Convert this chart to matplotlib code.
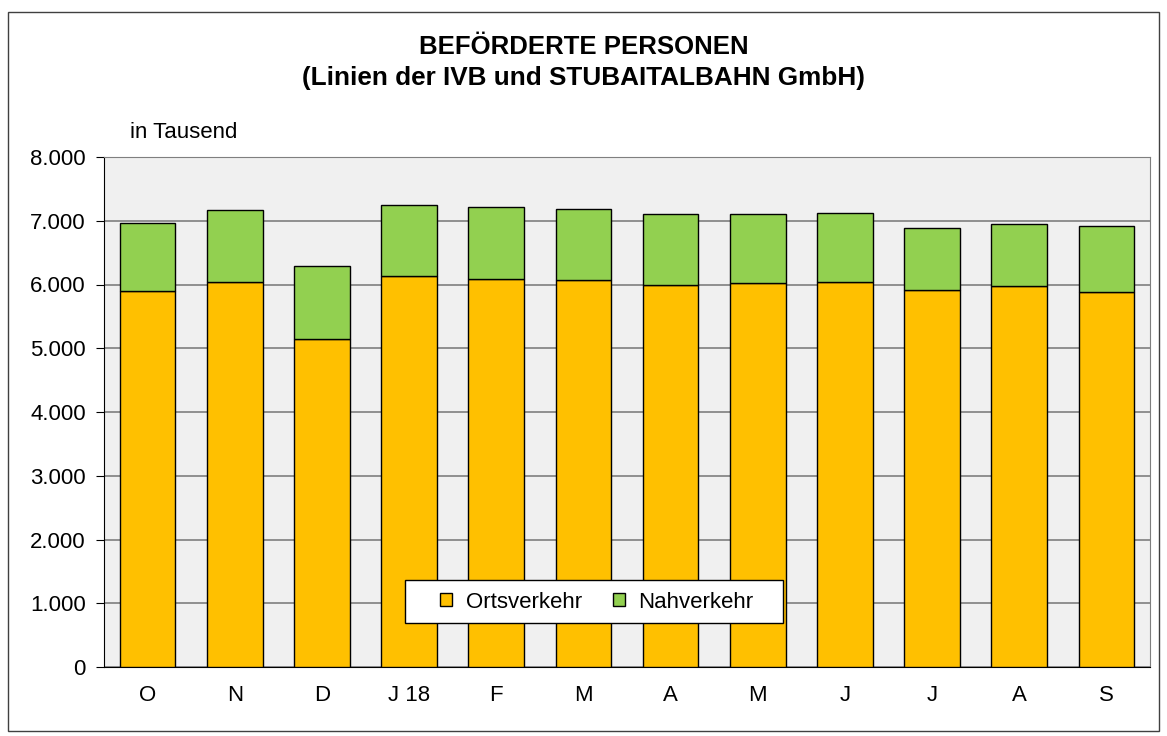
import matplotlib.pyplot as plt
import numpy as np
from matplotlib.patches import Rectangle
from matplotlib.ticker import FuncFormatter

plt.rcParams['font.family'] = ['Liberation Sans', 'DejaVu Sans']

months = ["O", "N", "D", "J 18", "F", "M", "A", "M", "J", "J", "A", "S"]
ortsverkehr = [5896, 6038, 5148, 6126, 6085, 6063, 5995, 6027, 6038, 5917, 5975, 5880]
gesamt = [6964, 7168, 6289, 7246, 7215, 7188, 7105, 7105, 7115, 6890, 6948, 6917]
nahverkehr = [g - o for g, o in zip(gesamt, ortsverkehr)]

fig = plt.figure(figsize=(11.67, 7.36), dpi=100)
ax = fig.add_axes([104/1167, 1 - 667/736, 1046/1167, 510/736])

# outer frame
fig.patches.append(Rectangle((8/1167, 1 - 731/736), 1151/1167, 719/736,
                             transform=fig.transFigure, fill=False,
                             edgecolor='#404040', linewidth=1.0))

x = np.arange(len(months))
ax.bar(x, ortsverkehr, width=0.64, color='#FFC000', edgecolor='black',
       linewidth=1.0, label='Ortsverkehr', zorder=3)
ax.bar(x, nahverkehr, width=0.64, bottom=ortsverkehr, color='#92D050',
       edgecolor='black', linewidth=1.0, label='Nahverkehr', zorder=3)

ax.set_facecolor('#F0F0F0')
ax.set_xlim(-0.5, len(months) - 0.5)
ax.set_ylim(0, 8000)
ax.set_yticks(range(0, 8001, 1000))
ax.yaxis.set_major_formatter(FuncFormatter(lambda v, p: f"{int(v):,}".replace(",", ".")))
ax.grid(axis='y', color='#7F7F7F', linewidth=1.2, zorder=0)
ax.set_axisbelow(True)
ax.set_xticks(x)
ax.set_xticklabels(months)
ax.tick_params(axis='x', length=0, labelsize=16, pad=13)
ax.tick_params(axis='y', length=6, labelsize=16, pad=7)
for s in ['top', 'right']:
    ax.spines[s].set_color('#7F7F7F')
for s in ['left', 'bottom']:
    ax.spines[s].set_color('black')

fig.text(0.5, 1 - 47/736, "BEFÖRDERTE PERSONEN", ha='center', va='center',
         fontsize=18.5, fontweight='bold')
fig.text(0.5, 1 - 78/736, "(Linien der IVB und STUBAITALBAHN GmbH)", ha='center',
         va='center', fontsize=18.8, fontweight='bold')
fig.text(130/1167, 1 - 132/736, "in Tausend", ha='left', va='center', fontsize=16)

# legend: white box drawn separately, entries without frame on top
legbox = Rectangle((405/1167, 1 - 623/736), 378/1167, 43/736,
                   transform=fig.transFigure, facecolor='white',
                   edgecolor='black', linewidth=1.0, zorder=4)
ax.add_artist(legbox)
legbox.set_clip_on(False)
leg = ax.legend(loc='center', bbox_to_anchor=(597/1167, 1 - 602/736),
                bbox_transform=fig.transFigure, ncol=2, fontsize=16,
                frameon=False, handlelength=0.55, handleheight=0.55,
                columnspacing=1.4, borderpad=0, handletextpad=0.6,
                borderaxespad=0)
leg.set_zorder(5)

plt.savefig("out.png", dpi=100)
